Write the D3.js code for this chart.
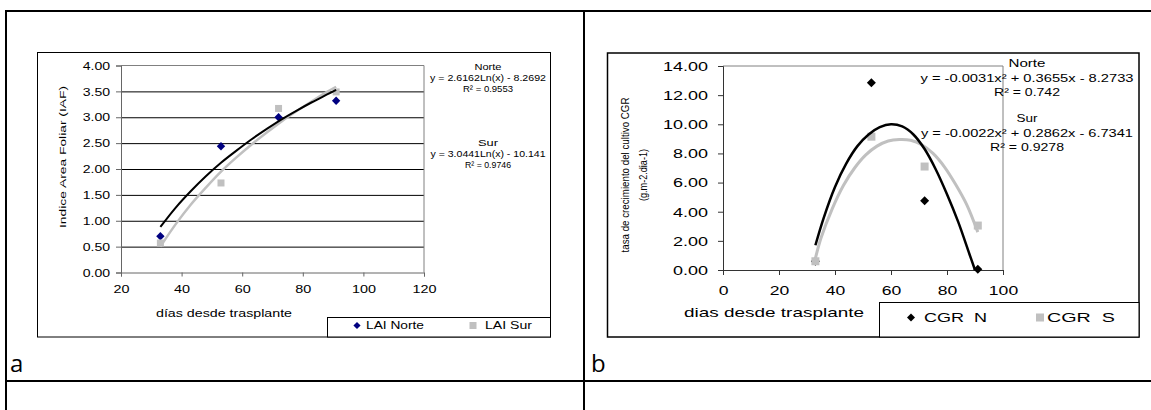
<!DOCTYPE html>
<html><head><meta charset="utf-8">
<script src="https://cdn.jsdelivr.net/npm/d3@7"></script>
<style>
html,body{margin:0;padding:0;background:#fff;}
svg{display:block;font-family:"Liberation Sans",Arial,sans-serif;}
svg text{font-family:"Liberation Sans",Arial,sans-serif;white-space:pre;}
svg text.lbl{font-family:"Open Sans",sans-serif;}
</style></head>
<body>
<script>
// ---------- Chart a data ----------
const daysA = [33, 53, 72, 91];
const laiNorte = [0.70, 2.44, 3.00, 3.32];
const laiSur = [0.57, 1.73, 3.17, 3.49];
const trendAx = [33, 38, 43, 48, 53, 58, 63, 68, 73, 78, 83, 88, 91];
const trendANorte = [0.88, 1.25, 1.57, 1.86, 2.12, 2.35, 2.57, 2.77, 2.96, 3.13, 3.29, 3.44, 3.53];
const trendASur = [0.50, 0.93, 1.31, 1.64, 1.95, 2.22, 2.47, 2.70, 2.92, 3.12, 3.31, 3.49, 3.59];
const xTicksA = [20, 40, 60, 80, 100, 120];
const yTicksA = [0, 0.5, 1, 1.5, 2, 2.5, 3, 3.5, 4];
const legendA = ["LAI Norte", "LAI Sur"];
const eqA = [["Norte", "y = 2.6162Ln(x) - 8.2692", "R² = 0.9553"], ["Sur", "y = 3.0441Ln(x) - 10.141", "R² = 0.9746"]];

// ---------- Chart b data ----------
const daysB = [33, 53, 72, 91];
const cgrN = [0.60, 12.85, 4.75, 0.05];
const cgrS = [0.60, 9.15, 7.10, 3.05];
const fitNx = [33, 36, 40, 44, 48, 52, 56, 60, 64, 68, 72, 76, 80, 84, 88, 90];
const fitNy = [1.7, 3.6, 5.7, 7.3, 8.5, 9.3, 9.8, 10.0, 9.85, 9.3, 8.3, 6.9, 5.2, 3.3, 1.1, 0.0];
const fitSx = [33, 35, 39, 43, 47, 51, 55, 59, 63, 67, 71, 75, 79, 83, 87, 91];
const fitSy = [0.8, 2.2, 4.2, 5.8, 7.0, 7.9, 8.5, 8.85, 8.95, 8.9, 8.6, 8.0, 7.1, 5.9, 4.5, 2.6];
const xTicksB = [0, 20, 40, 60, 80, 100];
const yTicksB = [0, 2, 4, 6, 8, 10, 12, 14];
const legendB = ["CGR\u00a0\u00a0N", "CGR\u00a0\u00a0S"];
const eqB = [["Norte", "y = -0.0031x² + 0.3655x - 8.2733", "R² = 0.742"], ["Sur", "y = -0.0022x² + 0.2862x - 6.7341", "R² = 0.9278"]];

const GRAY = "#c0c0c0", NAVY = "#000080";

const svg = d3.select("body").append("svg").attr("width", 1151).attr("height", 410);

function fit(sel, w) { sel.attr("textLength", w).attr("lengthAdjust", "spacingAndGlyphs"); }
function stretch(sel, k) {
  sel.each(function () {
    const l = this.getComputedTextLength();
    this.setAttribute("textLength", l * k);
    this.setAttribute("lengthAdjust", "spacingAndGlyphs");
  });
}
function addDiamond(g, cx, cy, half, color) {
  return g.append("path")
    .attr("transform", `translate(${cx},${cy}) rotate(45)`)
    .attr("d", d3.symbol().type(d3.symbolSquare).size(2 * half * half)())
    .attr("fill", color);
}

// ---------- table lines ----------
const tbl = svg.append("g").attr("stroke", "#000").attr("stroke-width", 2);
tbl.append("line").attr("x1", 5).attr("y1", 11).attr("x2", 1151).attr("y2", 11);
tbl.append("line").attr("x1", 6).attr("y1", 10).attr("x2", 6).attr("y2", 410);
tbl.append("line").attr("x1", 584).attr("y1", 10).attr("x2", 584).attr("y2", 410);
tbl.append("line").attr("x1", 5).attr("y1", 381).attr("x2", 1151).attr("y2", 381);

svg.append("text").attr("class", "lbl").attr("x", 10).attr("y", 372).attr("font-size", 24).text("a");
svg.append("text").attr("class", "lbl").attr("x", 591).attr("y", 372).attr("font-size", 24).text("b");

// ================= Chart a =================
(function () {
  const g = svg.append("g");
  g.append("rect").attr("x", 37.5).attr("y", 52.5).attr("width", 513).attr("height", 284.5)
    .attr("fill", "#fff").attr("stroke", "#000").attr("stroke-width", 1);
  const x = d3.scaleLinear().domain([20, 120]).range([121, 424]);
  const y = d3.scaleLinear().domain([0, 4]).range([272.5, 65.5]);

  const grid = g.append("g").attr("transform", `translate(121,0)`)
    .call(d3.axisLeft(y).tickValues(yTicksA.slice(1, -1)).tickSize(-(424 - 121)).tickFormat(""));
  grid.select(".domain").remove();
  grid.selectAll("line").attr("stroke", "#000").attr("stroke-width", 1);

  g.append("path").attr("d", `M121,${y(4)}H424V${y(0)}`).attr("fill", "none").attr("stroke", "#808080");

  const ax = g.append("g").attr("transform", `translate(0,${y(0)})`)
    .call(d3.axisBottom(x).tickValues(xTicksA).tickSize(4).tickPadding(8).tickFormat(d3.format("d")));
  const ay = g.append("g").attr("transform", `translate(121,0)`)
    .call(d3.axisLeft(y).tickValues(yTicksA).tickSize(5).tickPadding(6).tickFormat(d3.format(".2f")));
  [ax, ay].forEach(a => {
    a.attr("font-family", null);
    a.select(".domain").attr("stroke", "#666");
    a.selectAll(".tick line").attr("stroke", "#666");
    a.selectAll("text").attr("font-size", 11.5).attr("fill", "#000");
  });
  stretch(ax.selectAll("text"), 1.25);
  stretch(ay.selectAll("text"), 1.22);

  g.append("text").attr("x", 224).attr("y", 313).attr("dy", "0.35em").attr("text-anchor", "middle")
    .attr("font-size", 11.5).text("días desde trasplante").call(fit, 136);
  g.append("text").attr("transform", "translate(63,157) rotate(-90)").attr("dy", "0.35em").attr("text-anchor", "middle")
    .attr("font-size", 9).text("Indice Area Foliar (IAF)").call(fit, 142);

  daysA.forEach((d, i) => addDiamond(g, x(d), y(laiNorte[i]), 4.2, NAVY));
  g.selectAll(".ps").data(daysA).enter().append("rect")
    .attr("x", d => x(d) - 3.5).attr("y", (d, i) => y(laiSur[i]) - 3.5).attr("width", 7).attr("height", 7).attr("fill", GRAY);

  const lineA = d3.line().x((d, i) => x(trendAx[i])).y(d => y(d)).curve(d3.curveCatmullRom);
  g.append("path").datum(trendASur).attr("d", lineA).attr("fill", "none").attr("stroke", GRAY).attr("stroke-width", 2.5);
  g.append("path").datum(trendANorte).attr("d", lineA).attr("fill", "none").attr("stroke", "#000").attr("stroke-width", 2);

  const eqY = [[66.5, 77.5, 88.5], [142.5, 153.5, 164.5]];
  const eqW = [[27, 116, 50], [20, 115, 46]];
  eqA.forEach((blk, b) => blk.forEach((t, j) => {
    g.append("text").attr("x", 488).attr("y", eqY[b][j]).attr("dy", "0.35em").attr("text-anchor", "middle")
      .attr("font-size", 9).text(t).call(fit, eqW[b][j]);
  }));

  g.append("rect").attr("x", 327.5).attr("y", 317.5).attr("width", 223).attr("height", 19.5)
    .attr("fill", "#fff").attr("stroke", "#000").attr("stroke-width", 1);
  addDiamond(g, 357, 325.5, 3.6, NAVY);
  g.append("rect").attr("x", 469.5).attr("y", 322).attr("width", 7).attr("height", 7).attr("fill", GRAY);
  g.append("text").attr("x", 366).attr("y", 325.5).attr("dy", "0.35em").attr("font-size", 10.5).text(legendA[0]).call(fit, 58);
  g.append("text").attr("x", 485).attr("y", 325.5).attr("dy", "0.35em").attr("font-size", 10.5).text(legendA[1]).call(fit, 47);
})();

// ================= Chart b =================
(function () {
  const g = svg.append("g");
  g.append("rect").attr("x", 607.5).attr("y", 53).attr("width", 531.5).attr("height", 284)
    .attr("fill", "#fff").attr("stroke", "#000").attr("stroke-width", 1.5);
  const x = d3.scaleLinear().domain([0, 100]).range([723, 1003]);
  const y = d3.scaleLinear().domain([0, 14]).range([270, 66]);

  g.append("path").attr("d", `M723,${y(14)}H1003V${y(0)}`).attr("fill", "none").attr("stroke", "#808080");

  const ax = g.append("g").attr("transform", `translate(0,${y(0)})`)
    .call(d3.axisBottom(x).tickValues(xTicksB).tickSize(5).tickPadding(10).tickFormat(d3.format("d")));
  const ay = g.append("g").attr("transform", `translate(723,0)`)
    .call(d3.axisLeft(y).tickValues(yTicksB).tickSize(5).tickPadding(10).tickFormat(d3.format(".2f")));
  [ax, ay].forEach(a => {
    a.attr("font-family", null);
    a.select(".domain").attr("stroke", "#333");
    a.selectAll(".tick line").attr("stroke", "#333");
    a.selectAll("text").attr("font-size", 13.5).attr("fill", "#000");
  });
  stretch(ax.selectAll("text"), 1.3);
  stretch(ay.selectAll("text"), 1.33);

  g.append("text").attr("x", 774).attr("y", 312).attr("dy", "0.35em").attr("text-anchor", "middle")
    .attr("font-size", 13.5).text("dias desde trasplante").call(fit, 180);
  g.append("text").attr("transform", "translate(625,175) rotate(-90)").attr("dy", "0.35em").attr("text-anchor", "middle")
    .attr("font-size", 10).text("tasa de crecimiento del cultivo CGR").call(fit, 155);
  g.append("text").attr("transform", "translate(643,175) rotate(-90)").attr("dy", "0.35em").attr("text-anchor", "middle")
    .attr("font-size", 10).text("(g.m-2.dia-1)").call(fit, 52);

  daysB.forEach((d, i) => addDiamond(g, x(d), y(cgrN[i]), 4.5, "#000"));
  g.selectAll(".ps").data(daysB).enter().append("rect")
    .attr("x", d => x(d) - 4).attr("y", (d, i) => y(cgrS[i]) - 4).attr("width", 8).attr("height", 8).attr("fill", GRAY);

  const lineS = d3.line().x((d, i) => x(fitSx[i])).y(d => y(d)).curve(d3.curveCatmullRom);
  const lineN = d3.line().x((d, i) => x(fitNx[i])).y(d => y(d)).curve(d3.curveCatmullRom);
  g.append("path").datum(fitSy).attr("d", lineS).attr("fill", "none").attr("stroke", GRAY).attr("stroke-width", 3);
  g.append("path").datum(fitNy).attr("d", lineN).attr("fill", "none").attr("stroke", "#000").attr("stroke-width", 2.5);

  const eqY = [[63, 78, 92], [118, 133, 147]];
  const eqW = [[37, 213, 66], [21, 212, 74]];
  eqB.forEach((blk, b) => blk.forEach((t, j) => {
    g.append("text").attr("x", 1027).attr("y", eqY[b][j]).attr("dy", "0.35em").attr("text-anchor", "middle")
      .attr("font-size", 11).text(t).call(fit, eqW[b][j]);
  }));

  g.append("rect").attr("x", 879.5).attr("y", 302.5).attr("width", 259.5).attr("height", 34.5)
    .attr("fill", "#fff").attr("stroke", "#000").attr("stroke-width", 1);
  addDiamond(g, 911, 317.5, 4, "#000");
  g.append("rect").attr("x", 1036).attr("y", 313.5).attr("width", 8).attr("height", 8).attr("fill", GRAY);
  g.append("text").attr("x", 924).attr("y", 317).attr("dy", "0.35em").attr("font-size", 13.5).text(legendB[0]).call(fit, 63);
  g.append("text").attr("x", 1047).attr("y", 317).attr("dy", "0.35em").attr("font-size", 13.5).text(legendB[1]).call(fit, 68);
})();
</script>
</body></html>
